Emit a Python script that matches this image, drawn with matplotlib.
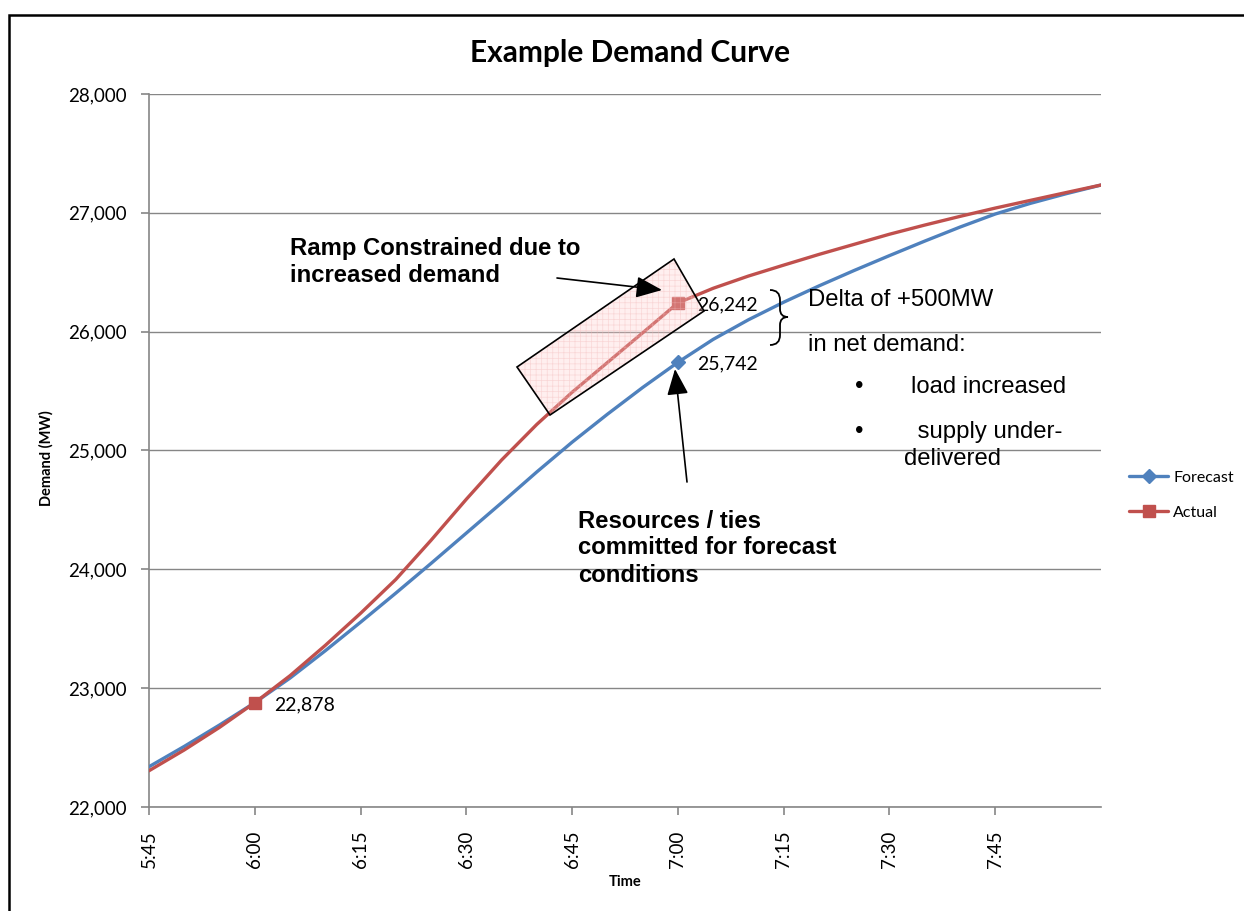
"""
Example demand curve: forecast vs actual net demand over the morning ramp,
with the ramp-constrained window and the +500MW delta called out.
"""

import matplotlib
matplotlib.use("Agg")
import matplotlib.pyplot as plt
from matplotlib.patches import Polygon, Rectangle, PathPatch, FancyArrowPatch
from matplotlib.path import Path

W, H = 1244, 911
BLUE = "#4f81bd"
RED = "#c0504d"
GRID = "#868686"
CAL = "Lato"               # stands in for Calibri
ARIAL = "Liberation Sans"

plt.rcParams["hatch.linewidth"] = 0.5

# 5-minute readings, 5:45 .. 8:00
times = ["5:45", "5:50", "5:55", "6:00", "6:05", "6:10", "6:15", "6:20", "6:25",
         "6:30", "6:35", "6:40", "6:45", "6:50", "6:55", "7:00", "7:05", "7:10",
         "7:15", "7:20", "7:25", "7:30", "7:35", "7:40", "7:45", "7:50", "7:55", "8:00"]
forecast = [22339, 22510, 22690, 22878, 23085, 23315, 23555, 23800, 24050,
            24305, 24560, 24820, 25070, 25305, 25530, 25742, 25935, 26100,
            26248, 26385, 26515, 26640, 26762, 26880, 26990, 27080, 27160, 27234]
actual = [22305, 22480, 22670, 22878, 23105, 23360, 23630, 23915, 24245,
          24590, 24920, 25220, 25490, 25740, 25990, 26242, 26365, 26468,
          26560, 26650, 26735, 26820, 26897, 26970, 27040, 27105, 27170, 27234]

tick_times = ["5:45", "6:00", "6:15", "6:30", "6:45", "7:00", "7:15", "7:30", "7:45"]
y_ticks = [22000, 23000, 24000, 25000, 26000, 27000, 28000]
labelled_actual = ["6:00", "7:00"]
labelled_forecast = ["7:00"]


def to_min(t):
    h, m = t.split(":")
    return int(h) * 60 + int(m)


def px(x, y):
    """pixel position in the 1244x911 picture -> figure fraction"""
    return x / W, 1 - y / H


x = [to_min(t) for t in times]

fig = plt.figure(figsize=(W / 100, H / 100), dpi=100)
ax = fig.add_axes([149 / W, 1 - 807 / H, (1101 - 149) / W, (807 - 94) / H])

line_kw = dict(lw=2.4, solid_joinstyle="round", solid_capstyle="round")
ax.plot(x, forecast, color=BLUE, marker="D", ms=7, label="Forecast", zorder=3,
        markevery=[times.index(t) for t in labelled_forecast], **line_kw)
ax.plot(x, actual, color=RED, marker="s", ms=8.5, label="Actual", zorder=4,
        markevery=[times.index(t) for t in labelled_actual], **line_kw)

for t in labelled_forecast:
    i = times.index(t)
    ax.annotate(f"{forecast[i]:,}", (x[i], forecast[i]), xytext=(19, -2),
                textcoords="offset pixels", va="center", fontsize=14, family=CAL)
for t in labelled_actual:
    i = times.index(t)
    ax.annotate(f"{actual[i]:,}", (x[i], actual[i]), xytext=(19, -2),
                textcoords="offset pixels", va="center", fontsize=14, family=CAL)

ax.set_xlim(to_min("5:45"), to_min("8:00"))
ax.set_ylim(22000, 28000)
ax.set_xticks([to_min(t) for t in tick_times])
ax.set_xticklabels(tick_times, rotation=90, fontsize=13.5, family=CAL)
ax.set_yticks(y_ticks)
ax.set_yticklabels([f"{v:,}" for v in y_ticks], fontsize=13.5, family=CAL)
ax.grid(axis="y", color=GRID, lw=1)
ax.set_axisbelow(True)
for s in ("top", "right"):
    ax.spines[s].set_visible(False)
for s in ("left", "bottom"):
    ax.spines[s].set_color(GRID)
    ax.spines[s].set_linewidth(1.2)
ax.tick_params(color=GRID, length=6, width=1.2)
ax.tick_params(axis="y", pad=10)
ax.tick_params(axis="x", pad=11)

ax.set_xlabel("Time", fontsize=10.5, fontweight="bold", family=CAL, labelpad=5)
ax.text(*px(46, 458), "Demand (MW)", transform=fig.transFigure, rotation=90,
        ha="center", va="center", fontsize=10.5, fontweight="bold", family=CAL)
fig.text(*px(630, 53), "Example Demand Curve", ha="center", va="center",
         fontsize=21.5, fontweight="bold", family=CAL)

ax.legend(loc="center left", bbox_to_anchor=px(1115, 495), bbox_transform=fig.transFigure,
          frameon=False, prop={"family": CAL, "size": 11.5},
          handlelength=2.4, handletextpad=0.35, labelspacing=1.3)

# outer chart frame (left and top edges visible)
fig.add_artist(Rectangle(px(9, 1000), 2, (1000 - 14.5) / H, transform=fig.transFigure,
                         fill=False, ec="black", lw=1.8, clip_on=False))

# ramp-constrained window
corners = [px(517, 367), px(674, 259), px(704, 311), px(550, 415)]
fig.add_artist(Polygon(corners, closed=True, transform=fig.transFigure,
                       fc=(1.0, 0.8, 0.8, 0.3), ec="none", zorder=5))
fig.add_artist(Polygon(corners, closed=True, transform=fig.transFigure,
                       fill=False, ec=(0.95, 0.72, 0.72, 0.45), lw=0, hatch="+++", zorder=5))
fig.add_artist(Polygon(corners, closed=True, transform=fig.transFigure,
                       fill=False, ec="black", lw=1.2, zorder=6))

bold = dict(fontsize=17.2, fontweight="bold", family=ARIAL, va="center", ha="left")
fig.text(*px(290, 249), "Ramp Constrained due to", **bold)
fig.text(*px(290, 276), "increased demand", **bold)
fig.text(*px(578, 521), "Resources / ties", **bold)
fig.text(*px(578, 548), "committed for forecast", **bold)
fig.text(*px(578, 576), "conditions", **bold)

arrow = "-|>,head_length=0.8,head_width=0.33"
fig.add_artist(FancyArrowPatch(px(557, 278), px(662, 290), transform=fig.transFigure,
                               arrowstyle=arrow, mutation_scale=20, color="black",
                               lw=1.2, shrinkA=0, shrinkB=0, zorder=7))
fig.add_artist(FancyArrowPatch(px(687, 482), px(675, 369), transform=fig.transFigure,
                               arrowstyle=arrow, mutation_scale=20, color="black",
                               lw=1.2, shrinkA=0, shrinkB=0, zorder=7))

# curly brace for the delta
brace = Path([px(770, 290), px(780, 290), px(780, 300), px(780, 309),
              px(780, 317), px(788, 317), px(780, 317), px(780, 325),
              px(780, 335), px(780, 345), px(770, 345)],
             [Path.MOVETO, Path.CURVE3, Path.CURVE3, Path.LINETO,
              Path.CURVE3, Path.CURVE3, Path.CURVE3, Path.CURVE3,
              Path.LINETO, Path.CURVE3, Path.CURVE3])
fig.add_artist(PathPatch(brace, transform=fig.transFigure, fill=False, ec="black", lw=1.3))

reg = dict(fontsize=17.2, family=ARIAL, va="center", ha="left")
fig.text(*px(808, 300), "Delta of +500MW", **reg)
fig.text(*px(808, 345), "in net demand:", **reg)
fig.text(*px(855, 387), "•", **reg)
fig.text(*px(911, 387), "load increased", **reg)
fig.text(*px(855, 432), "•", **reg)
fig.text(*px(911, 432), " supply under-", **reg)
fig.text(*px(904, 459), "delivered", **reg)

fig.savefig("out.png", dpi=100)
